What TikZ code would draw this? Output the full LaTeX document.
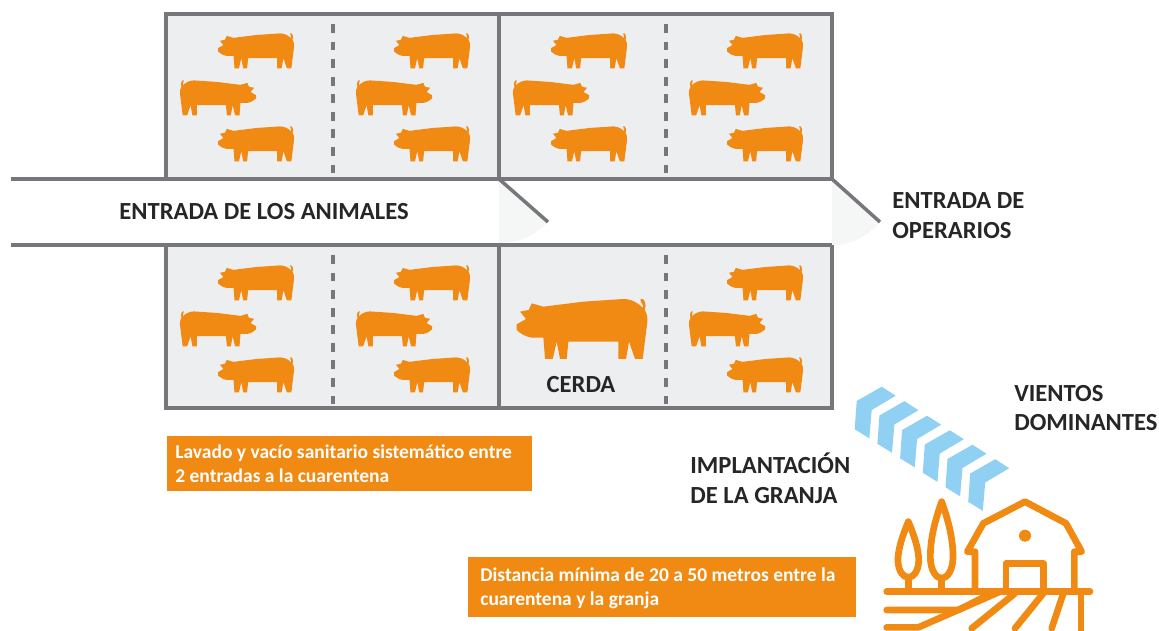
\documentclass[tikz,border=0pt]{standalone}
\usepackage{fontspec}
\setmainfont{Carlito}
\usepackage{xcolor}
\definecolor{pigorange}{HTML}{F08A12}
\definecolor{pengray}{HTML}{ECEEF0}
\definecolor{wallgray}{HTML}{77777B}
\definecolor{windblue}{HTML}{8FD0F3}
\definecolor{labelgray}{HTML}{262626}
\definecolor{doorgray}{HTML}{F5F6F6}
\tikzset{
    wall/.style={draw=wallgray,line width=2pt},
    pendash/.style={draw=wallgray,line width=1.8pt,dash pattern=on 5pt off 5pt},
    farmline/.style={draw=pigorange,line width=3.8pt,line cap=round,line join=round},
    biglabel/.style={font=\bfseries\fontsize{14}{17}\selectfont,text=labelgray,align=left,inner sep=0pt},
    boxlabel/.style={font=\bfseries\fontsize{11.1}{13.6}\selectfont,text=white,align=left,inner sep=0pt,anchor=west},
    pigfarm/.pic={
        \fill[pigorange] (0,78) -- (28,62) -- (10,40) -- (36,35) -- (45,15) -- (80,25) -- (200,10) -- (320,2)
            .. controls (345,2) and (365,15) .. (378,28)
            .. controls (384,20) and (368,12) .. (372,2)
            .. controls (382,-4) and (392,20) .. (384,34)
            .. controls (390,45) and (393,55) .. (392,70)
            -- (378,182) -- (355,182) -- (337,130) -- (328,182) -- (305,182) -- (305,130) -- (155,130)
            -- (150,182) -- (130,182) -- (120,130) -- (108,182) -- (85,182) -- (80,118) -- (45,118)
            .. controls (25,115) and (10,105) .. (0,95) -- cycle;
    }
}
\begin{document}
\begin{tikzpicture}[x=0.02cm,y=-0.02cm]
    \useasboundingbox (0,0) rectangle (1159,630);
    \clip (0,0) rectangle (1159,630);

    % pens
    \fill[pengray] (166,14) rectangle (832,179);
    \fill[pengray] (166,245) rectangle (832,408);

    % door swing
    \fill[doorgray] (499,179) -- (548,222) .. controls (535,235) and (520,243) .. (499,243) -- cycle;
    \fill[doorgray] (832,179) -- (880,222) .. controls (868,236) and (852,245) .. (832,245) -- cycle;

    \draw[wall] (166,179) -- (166,14) -- (832,14) -- (832,179);
    \draw[wall] (499,14) -- (499,179);
    \draw[wall] (166,245) -- (166,408) -- (832,408) -- (832,245);
    \draw[wall] (499,245) -- (499,408);
    \draw[wall] (11,179) -- (832,179);
    \draw[wall] (11,245) -- (832,245);
    \draw[wall] (499,179) -- (548,222);
    \draw[wall] (832,179) -- (880,222);
    \draw[pendash] (333,24) -- (333,174);
    \draw[pendash] (666,24) -- (666,174);
    \draw[pendash] (333,255) -- (333,404);
    \draw[pendash] (666,255) -- (666,404);

    % pigs
    \foreach \px in {0,176,333,509} {
        \foreach \py in {33,126} {
            \pic[scale=0.194] at (218+\px,\py) {pigfarm};
        }
        \pic[xscale=-0.194,yscale=0.194] at (256+\px,80) {pigfarm};
    }
    \foreach \px in {0,176,509} {
        \foreach \py in {265,357} {
            \pic[scale=0.194] at (218+\px,\py) {pigfarm};
        }
        \pic[xscale=-0.194,yscale=0.194] at (256+\px,311) {pigfarm};
    }
    \pic[scale=0.3333] at (516.7,298.3) {pigfarm};

    % wind
    \foreach \w in {0,...,5} {
        \fill[windblue,shift={(22.7*\w,14.5*\w)}] (856.7,401) -- (881.7,386.7) -- (895.7,395.7) -- (871.7,410) -- (869.3,438.3) -- (854.7,429.3) -- cycle;
    }

    % farm
    \begin{scope}[shift={(880,490)},scale=1/3]
        \draw[farmline] (20,305) -- (630,305);
        \draw[farmline] (285,305) -- (285,185) -- (262,185) -- (310,100) -- (435,35) -- (558,100) -- (605,185) -- (583,185) -- (583,305);
        \draw[farmline] (378,305) -- (378,220) -- (490,220) -- (490,305);
        \fill[pigorange] (435,137) circle (18);
        \draw[farmline] (85,95) .. controls (70,130) and (52,180) .. (54,215) .. controls (56,245) and (70,262) .. (85,262) .. controls (100,262) and (114,245) .. (116,215) .. controls (118,180) and (100,130) .. (85,95) -- cycle;
        \draw[farmline] (85,262) -- (85,305);
        \draw[farmline] (185,35) .. controls (165,90) and (150,150) .. (151,205) .. controls (152,240) and (168,265) .. (185,265) .. controls (202,265) and (218,240) .. (219,205) .. controls (220,150) and (205,90) .. (185,35) -- cycle;
        \draw[farmline] (185,265) -- (185,305);
        \draw[farmline] (20,360) -- (235,360) -- (310,322);
        \draw[farmline] (20,412) -- (115,412) -- (360,305);
        \draw[farmline] (275,415) -- (405,310);
        \draw[farmline] (405,415) -- (490,310);
        \draw[farmline] (515,415) -- (550,310);
        \draw[farmline] (603,305) -- (603,430);
    \end{scope}

    % orange boxes
    \fill[pigorange] (167,436) rectangle (532,491);
    \fill[pigorange] (468,557) rectangle (856,617);
    \node[boxlabel] (lavado) at (175,463.5) {Lavado y vacío sanitario sistemático entre\\2 entradas a la cuarentena};
    \node[boxlabel] (distancia) at (480,588) {Distancia mínima de 20 a 50 metros entre la\\cuarentena y la granja};

    % labels
    \node[biglabel] (animales) at (264,212) {ENTRADA DE LOS ANIMALES};
    \node[biglabel,anchor=west] (operarios) at (892,216) {ENTRADA DE\\OPERARIOS};
    \node[biglabel] (cerda) at (581,385) {CERDA};
    \node[biglabel,anchor=west] (vientos) at (1014,408) {VIENTOS\\DOMINANTES};
    \node[biglabel,anchor=west] (implantacion) at (690,478.5) {IMPLANTACIÓN\\DE LA GRANJA};
\end{tikzpicture}
\end{document}
